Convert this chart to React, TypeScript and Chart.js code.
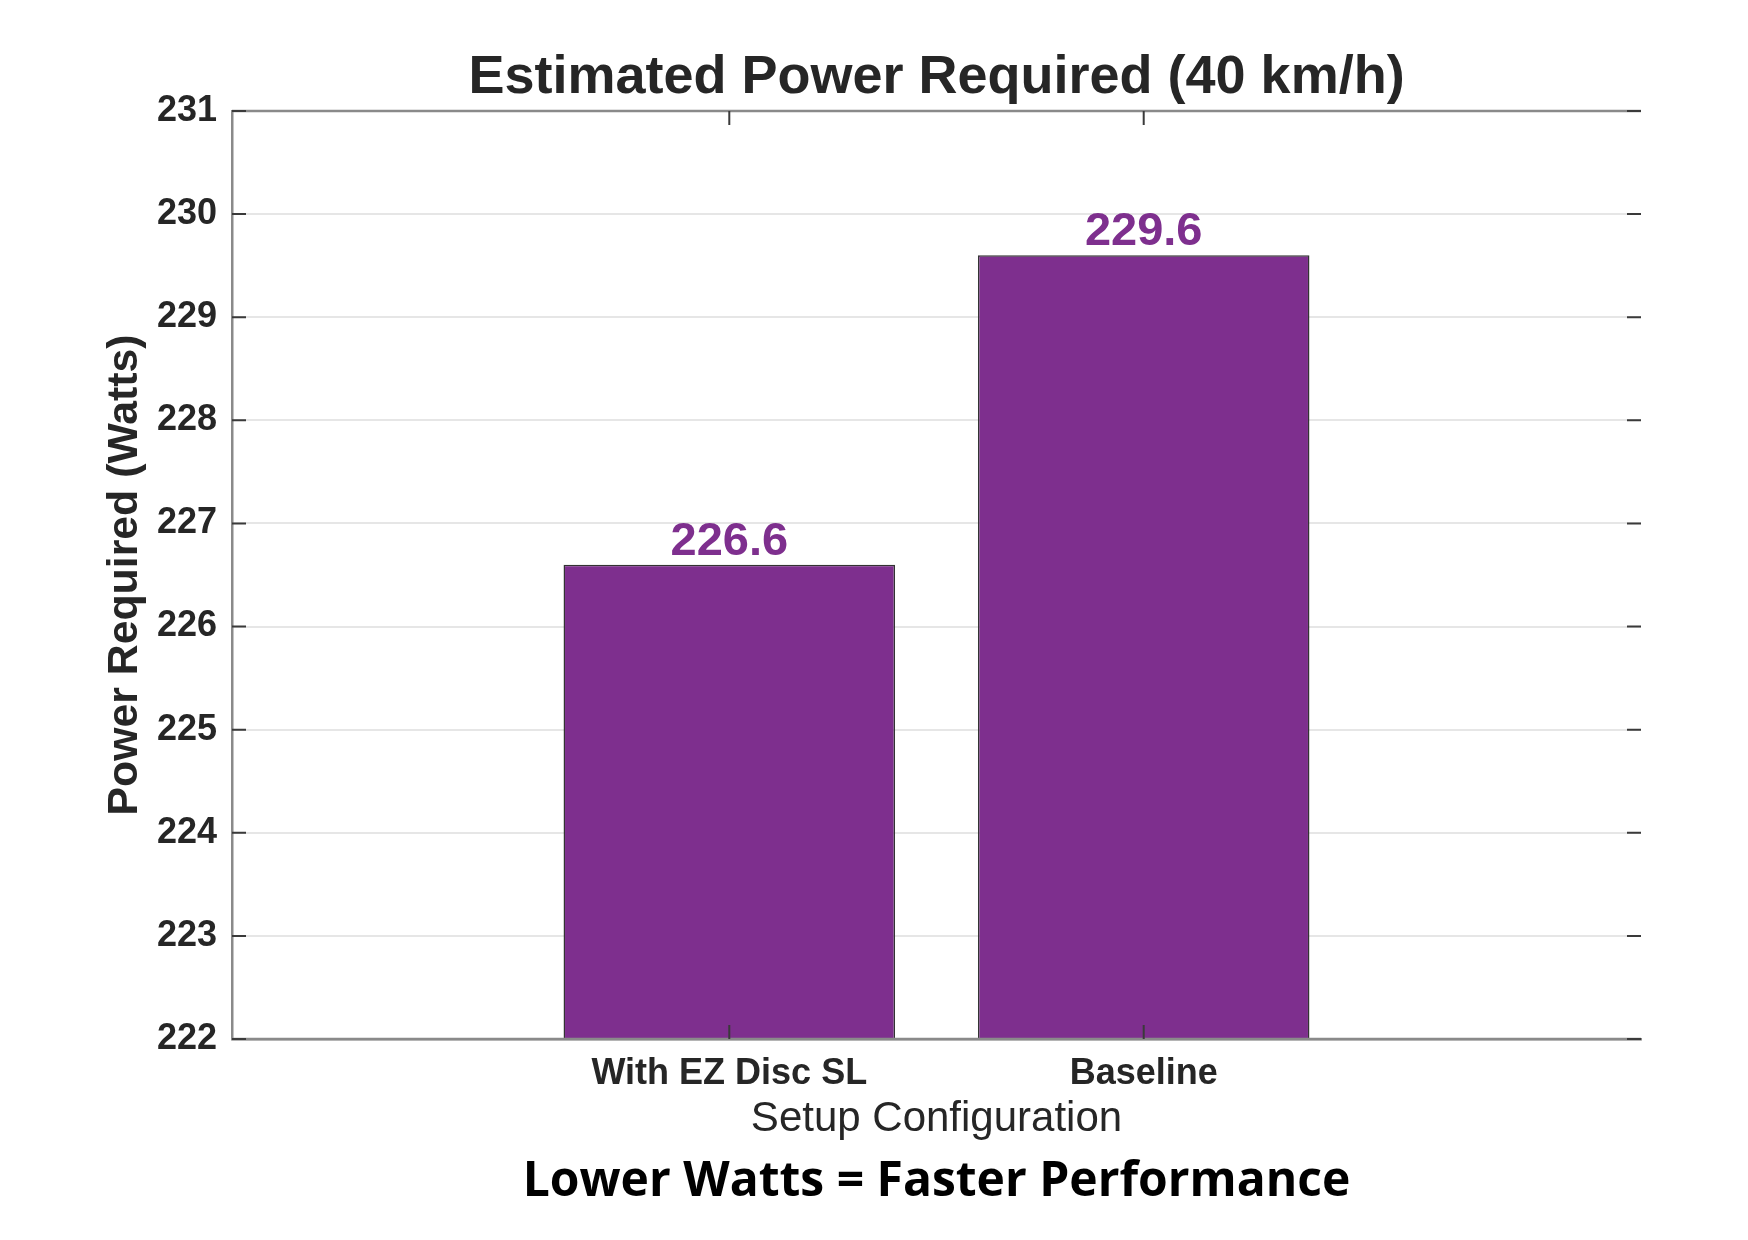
import { useEffect, useRef } from 'react';
import { Chart, registerables } from 'chart.js';

Chart.register(...registerables);

// data
const CATEGORIES = ['With EZ Disc SL', 'Baseline'];
const POWER_W = [226.6, 229.6];
const Y_TICK_MIN = 222;
const Y_TICK_MAX = 231;
const X_MIN = -0.2;
const X_MAX = 3.2;

const PURPLE = '#7E2F8E';
const INK = '#262626';
const AXIS_GREY = '#8a8a8a';
const FONT = '"Liberation Sans", Arial, Helvetica, sans-serif';

// MATLAB-like box: top edge, inward ticks, value labels
const boxTicks = {
  id: 'boxTicks',
  afterDatasetsDraw(chart: any) {
    const { ctx, chartArea: a, scales } = chart;
    const x = scales.x;
    const y = scales.y;
    ctx.save();
    ctx.strokeStyle = AXIS_GREY;
    ctx.lineWidth = 2.5;
    ctx.beginPath();
    ctx.moveTo(a.left, a.top);
    ctx.lineTo(a.right, a.top);
    ctx.moveTo(a.left, a.bottom);
    ctx.lineTo(a.right, a.bottom);
    ctx.stroke();

    ctx.strokeStyle = '#3a3a3a';
    ctx.lineWidth = 2;
    ctx.beginPath();
    y.ticks.forEach((t: any) => {
      const py = y.getPixelForValue(t.value);
      ctx.moveTo(a.left, py);
      ctx.lineTo(a.left + 14, py);
      ctx.moveTo(a.right, py);
      ctx.lineTo(a.right - 14, py);
    });
    x.ticks.forEach((t: any) => {
      const px = x.getPixelForValue(t.value);
      ctx.moveTo(px, a.top);
      ctx.lineTo(px, a.top + 14);
      ctx.moveTo(px, a.bottom);
      ctx.lineTo(px, a.bottom - 14);
    });
    ctx.stroke();

    const meta = chart.getDatasetMeta(0);
    ctx.fillStyle = PURPLE;
    ctx.font = `bold 47px ${FONT}`;
    ctx.textAlign = 'center';
    ctx.textBaseline = 'alphabetic';
    meta.data.forEach((bar: any, i: number) => {
      ctx.fillText(POWER_W[i].toFixed(1), bar.x, bar.y - 10);
    });
    ctx.restore();
  },
};

export default function App() {
  const canvasRef = useRef<HTMLCanvasElement>(null);
  const chartRef = useRef<Chart | null>(null);

  useEffect(() => {
    document.body.style.margin = '0';
    if (!canvasRef.current) return;
    chartRef.current?.destroy();
    chartRef.current = new Chart(canvasRef.current, {
      type: 'bar',
      data: {
        datasets: [{
          data: CATEGORIES.map((_, i) => ({ x: i + 1, y: POWER_W[i] })),
          backgroundColor: PURPLE,
          borderColor: '#333333',
          borderWidth: 1.5,
          barPercentage: 0.8,
          categoryPercentage: 1,
        }],
      },
      options: {
        responsive: false,
        devicePixelRatio: 1,
        animation: false,
        layout: { padding: { left: 91, right: 107, top: 0, bottom: 0 } },
        plugins: {
          legend: { display: false },
          tooltip: { enabled: false },
          title: {
            display: true,
            text: 'Estimated Power Required (40 km/h)',
            color: INK,
            fullSize: false,
            font: { family: FONT, size: 54, weight: 'bold', lineHeight: 1.2 },
            padding: { top: 46, bottom: 0.2 },
          },
          subtitle: {
            display: true,
            position: 'bottom',
            text: 'Lower Watts = Faster Performance',
            color: '#000000',
            fullSize: false,
            font: { family: '"Open Sans", Roboto, sans-serif', size: 48, weight: 'bold', lineHeight: 1.2 },
            padding: { top: 4.5, bottom: 29.2 },
          },
        },
        scales: {
          x: {
            type: 'linear',
            min: X_MIN,
            max: X_MAX,
            offset: false,
            grid: { display: false, drawTicks: false },
            border: { display: true, color: AXIS_GREY, width: 2.5 },
            afterBuildTicks: (scale: any) => {
              scale.ticks = CATEGORIES.map((_, i) => ({ value: i + 1 }));
            },
            afterFit: (scale: any) => { scale.height = 109.7; },
            ticks: {
              autoSkip: false,
              maxRotation: 0,
              padding: 13,
              color: INK,
              font: { family: FONT, size: 36, weight: 'bold', lineHeight: 1.2 },
              callback: (v: any) => CATEGORIES[Number(v) - 1] ?? '',
            },
            title: {
              display: true,
              text: 'Setup Configuration',
              color: INK,
              font: { family: FONT, size: 42, lineHeight: 1.2 },
              padding: { top: 4, bottom: 4 },
            },
          },
          y: {
            min: Y_TICK_MIN,
            max: Y_TICK_MAX,
            grid: { color: '#e6e6e6', lineWidth: 2, drawTicks: false },
            border: { display: true, color: AXIS_GREY, width: 2.5 },
            afterFit: (scale: any) => { scale.width = 141; },
            ticks: {
              stepSize: 1,
              padding: 15,
              color: INK,
              font: { family: FONT, size: 36, weight: 'bold', lineHeight: 1.2 },
            },
            title: {
              display: true,
              text: 'Power Required (Watts)',
              color: INK,
              font: { family: FONT, size: 42.8, weight: 'bold', lineHeight: 1.2 },
              padding: { top: 8.4, bottom: 0 },
            },
          },
        },
      },
      plugins: [boxTicks],
    });
    return () => { chartRef.current?.destroy(); chartRef.current = null; };
  }, []);

  return (
    <div style={{ width: 1748, height: 1240, background: '#fff' }}>
      <canvas ref={canvasRef} width={1748} height={1240} />
    </div>
  );
}
